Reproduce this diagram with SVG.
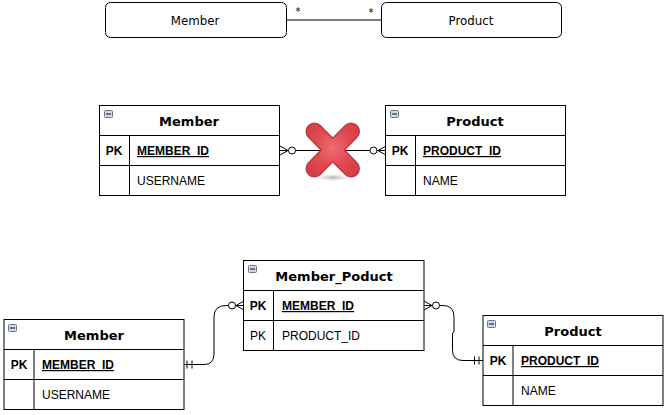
<svg xmlns="http://www.w3.org/2000/svg" width="666" height="415" viewBox="0 0 666 415">
<style>
.b{fill:#fff;stroke:#000;stroke-width:1}
.l{fill:none;stroke:#000;stroke-width:1}
.t{font:bold 13px "DejaVu Sans",sans-serif;text-anchor:middle;fill:#000}
.k{font:bold 12px "Liberation Sans",sans-serif;text-anchor:middle;fill:#000}
.p{font:12px "Liberation Sans",sans-serif;text-anchor:middle;fill:#000}
.f{font:bold 12px "Liberation Sans",sans-serif;text-decoration:underline;fill:#000}
.n{font:12px "Liberation Sans",sans-serif;fill:#000}
.u{font:11.800px "DejaVu Sans",sans-serif;text-anchor:middle;fill:#000}
.s{font:10px "DejaVu Sans",sans-serif;text-anchor:middle;fill:#000}
.m{fill:#cfd8e3;stroke:#66788f;stroke-width:1}
.d{stroke:#111;stroke-width:1}
.c{fill:#fff;stroke:#000;stroke-width:1}
</style>
<defs>
<g id="tg"><rect class="m" x="0.500" y="0.500" width="8" height="7" rx="1"/><path class="d" d="M2 4H7"/></g>
<radialGradient id="xg" gradientUnits="userSpaceOnUse" cx="332.500" cy="148" r="38"><stop offset="0" stop-color="#ee6c72"/><stop offset="0.500" stop-color="#e04850"/><stop offset="1" stop-color="#d63a42"/></radialGradient>
<radialGradient id="sh"><stop offset="0" stop-color="#b5b5b5"/><stop offset="1" stop-color="#c5c5c5" stop-opacity="0"/></radialGradient>
<filter id="sf" filterUnits="userSpaceOnUse" x="295" y="112" width="76" height="76"><feGaussianBlur stdDeviation="0.500"/></filter>
</defs>
<g id="connectors">
<path class="l" d="M286 20H381"/>
<text class="s" x="298" y="15">*</text>
<text class="s" x="371" y="16">*</text>
<path class="l" d="M280 150.500H386"/>
<path class="l" d="M280 146L288 150.500L280 155M386 146L378 150.500L386 155"/>
<path class="l" d="M184 364.500H204Q214 364.500 214 354V317Q214 305.500 226 305.500H244"/>
<path class="l" d="M187 360.500V368.500M192 360.500V368.500M244 301L236 305.500L244 310"/>
<circle class="c" cx="232" cy="305.500" r="3.500"/>
<path class="l" d="M424 305.500H443Q454 305.500 454 317V332L452.500 333V350Q452.500 360.500 463 360.500H483"/>
<path class="l" d="M424 301L432 305.500L424 310M474.500 356.500V364.500M479 356.500V364.500"/>
<circle class="c" cx="436" cy="305.500" r="3.500"/>
<circle class="c" cx="292" cy="150.500" r="3.500"/>
<circle class="c" cx="373.500" cy="150.500" r="3.500"/>
</g>
<g id="class-member"><rect class="b" x="105.500" y="2.500" width="181" height="35" rx="5"/><text class="u" x="195" y="25">Member</text></g>
<g id="class-product"><rect class="b" x="381.500" y="2.500" width="180" height="35" rx="5"/><text class="u" x="471" y="25">Product</text></g>
<g id="member-a">
<rect class="b" x="99.500" y="105.500" width="180" height="90"/>
<path class="l" d="M99.500 135.500H279.500M99.500 165.500H279.500M129.500 135.500V195.500"/>
<use href="#tg" x="104" y="110"/>
<text class="t" x="189" y="126">Member</text>
<text class="k" x="114" y="155">PK</text><text class="f" x="137" y="155">MEMBER_ID</text>
<text class="n" x="137" y="185">USERNAME</text>
</g>
<g id="product-a">
<rect class="b" x="385.500" y="105.500" width="180" height="90"/>
<path class="l" d="M385.500 135.500H565.500M385.500 165.500H565.500M415.500 135.500V195.500"/>
<use href="#tg" x="390" y="110"/>
<text class="t" x="475" y="126">Product</text>
<text class="k" x="400" y="155">PK</text><text class="f" x="423" y="155">PRODUCT_ID</text>
<text class="n" x="423" y="185">NAME</text>
</g>
<g id="cross">
<ellipse cx="333" cy="177.500" rx="17" ry="3.500" fill="url(#sh)"/>
<g filter="url(#sf)" fill="none" stroke-linecap="round">
<path d="M314.500 131.500L351 168.500M351 131.500L314.500 168.500" stroke="#bb3a42" stroke-width="18"/>
<path d="M314.500 131.500L351 168.500M351 131.500L314.500 168.500" stroke="url(#xg)" stroke-width="15"/>
</g>
</g>
<g id="member-poduct">
<rect class="b" x="243.500" y="260.500" width="180.500" height="90"/>
<path class="l" d="M243.500 290.500H424M243.500 320.500H424M273.500 290.500V350.500"/>
<use href="#tg" x="248" y="265"/>
<text class="t" x="334" y="281">Member_Poduct</text>
<text class="k" x="258" y="310">PK</text><text class="f" x="282" y="310">MEMBER_ID</text>
<text class="p" x="258" y="340">PK</text><text class="n" x="282" y="340">PRODUCT_ID</text>
</g>
<g id="member-b">
<rect class="b" x="4" y="319.500" width="180" height="90"/>
<path class="l" d="M4 349.500H184M4 379.500H184M34 349.500V409.500"/>
<use href="#tg" x="8" y="324"/>
<text class="t" x="94" y="340">Member</text>
<text class="k" x="19" y="369">PK</text><text class="f" x="42" y="369">MEMBER_ID</text>
<text class="n" x="42" y="399">USERNAME</text>
</g>
<g id="product-b">
<rect class="b" x="483" y="315.500" width="180" height="90"/>
<path class="l" d="M483 345.500H663M483 375.500H663M513 345.500V405.500"/>
<use href="#tg" x="487" y="320"/>
<text class="t" x="573" y="336">Product</text>
<text class="k" x="498" y="365">PK</text><text class="f" x="521" y="365">PRODUCT_ID</text>
<text class="n" x="521" y="395">NAME</text>
</g>
</svg>
